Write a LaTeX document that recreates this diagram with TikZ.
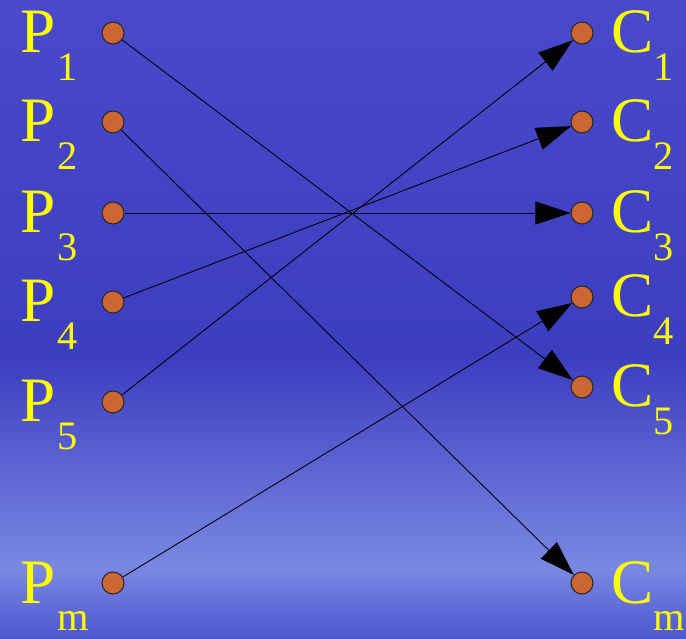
\documentclass[tikz,border=0pt]{standalone}
\usepackage{fontspec}
\setmainfont{Liberation Serif}
\usetikzlibrary{arrows.meta}
\definecolor{hfent}{RGB}{72,74,202}
\definecolor{hkozep}{RGB}{60,62,192}
\definecolor{hvilagos}{RGB}{122,136,226}
\definecolor{hlent}{RGB}{78,86,208}
\definecolor{narancs}{RGB}{204,102,51}
\definecolor{sarga}{RGB}{255,255,0}
\tikzset{
  pont/.style={circle,draw=black!85,fill=narancs,line width=0.6pt,inner sep=0pt,minimum size=4.4mm},
  betu/.style={anchor=base west,inner sep=0pt,text=sarga,font=\fontsize{36}{40}\selectfont},
  index/.style={anchor=base west,inner sep=0pt,text=sarga,font=\fontsize{23}{26}\selectfont},
  nyil/.style={-{Triangle[length=7mm,width=4.6mm]},line width=0.5pt},
}
\begin{document}
\begin{tikzpicture}
  \useasboundingbox (0,0) rectangle (13.72,12.76);
  % hatter
  \fill[bottom color=hlent,top color=hvilagos] (0,0) rectangle (13.72,1.4);
  \fill[bottom color=hvilagos,top color=hkozep] (0,1.4) rectangle (13.72,5.6);
  \fill[bottom color=hkozep,top color=hfent] (0,5.6) rectangle (13.72,12.76);
  % termelok
  \foreach \n/\y in {1/12.10,2/10.32,3/8.50,4/6.72,5/4.72,m/1.10} {
    \node[pont] (p\n) at (2.26,\y) {};
    \node[betu] (pb\n) at (0.40,\y-0.4) {P};
    \node[index] (pi\n) at (1.14,\y-0.95) {\n};
  }
  % fogyasztok
  \foreach \n/\y in {1/12.10,2/10.32,3/8.50,4/6.82,5/5.02,m/1.10} {
    \node[pont] (c\n) at (11.64,\y) {};
    \node[betu] (cb\n) at (12.22,\y-0.4) {C};
    \node[index] (ci\n) at (13.06,\y-0.95) {\n};
  }
  \draw[nyil] (p1) -- (c5); \draw[nyil] (p2) -- (cm); \draw[nyil] (p3) -- (c3);
  \draw[nyil] (p4) -- (c2); \draw[nyil] (p5) -- (c1); \draw[nyil] (pm) -- (c4);
\end{tikzpicture}
\end{document}
